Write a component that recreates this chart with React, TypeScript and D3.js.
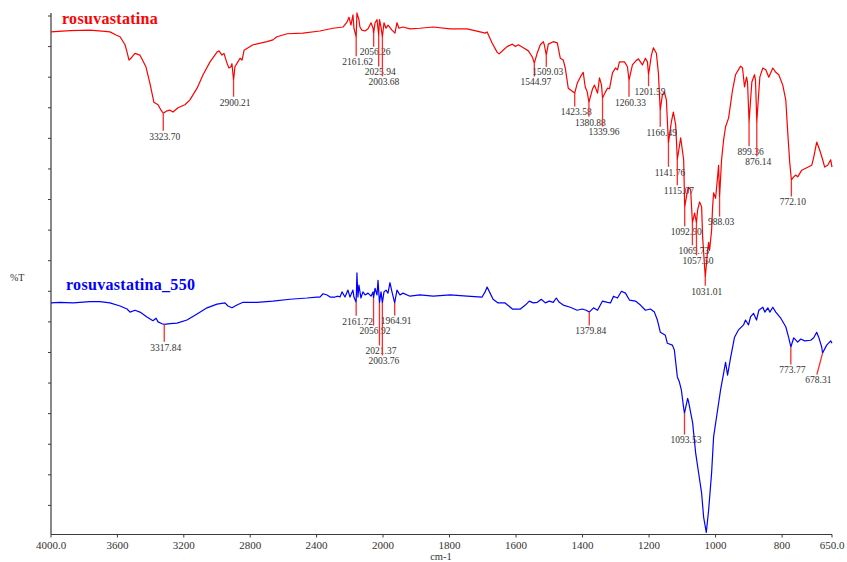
import React from "react";
import * as d3 from "d3";

// FTIR transmittance spectra, wavenumber (cm-1) vs %T
const wavenumberTicks = [4000, 3600, 3200, 2800, 2400, 2000, 1800, 1600, 1400, 1200, 1000, 800, 650];
const wavenumberTickLabels = ["4000.0", "3600", "3200", "2800", "2400", "2000", "1800", "1600", "1400", "1200", "1000", "800", "650.0"];
const transmittanceTicks = d3.range(5, 86, 5);

const seriesNames = ["rosuvastatina", "rosuvastatina_550"];

const rosuvastatina: [number, number][] = [
  [4000, 82.4], [3886, 82.6], [3765, 82.7], [3675, 82.5], [3645, 82.4], [3608, 81.9], [3584, 81.6],
  [3554, 80.3], [3542, 79.1], [3530, 77.8], [3518, 78.1], [3494, 78.9], [3464, 78.6], [3428, 76.7],
  [3404, 74.0], [3380, 70.9], [3355, 70.5], [3337, 69.6], [3323.7, 69.1], [3301, 69.5], [3283, 69.6],
  [3265, 69.3], [3235, 70.0], [3193, 70.5], [3163, 71.3], [3120, 73.2], [3084, 75.4], [3042, 77.5],
  [3000, 79.1], [2988, 79.3], [2970, 78.6], [2958, 78.9], [2940, 77.3], [2928, 76.5], [2916, 76.7],
  [2910, 77.2], [2900.21, 74.5], [2892, 76.7], [2874, 77.5], [2861, 78.1], [2849, 77.8], [2837, 79.4],
  [2783, 80.3], [2699, 80.8], [2663, 81.1], [2639, 81.6], [2578, 82.1], [2482, 82.2], [2380, 82.55],
  [2301, 83.0], [2241, 83.2], [2217, 84.0], [2205, 84.8], [2193, 83.5], [2181, 85.2], [2175, 83.0],
  [2161.62, 81.6], [2157, 85.5], [2145, 84.4], [2139, 83.2], [2127, 82.7], [2108, 82.55], [2090, 82.9],
  [2072, 83.9], [2060, 83.0], [2056.26, 82.2], [2048, 83.9], [2036, 84.4], [2025.94, 81.9], [2021, 84.4],
  [2012, 83.2], [2003.68, 81.6], [1997, 83.9], [1991, 83.0], [1985, 83.5], [1973, 82.7], [1964, 82.2],
  [1958, 83.9], [1952, 83.0], [1940, 83.2], [1919, 82.9], [1889, 83.0], [1849, 83.2], [1798, 82.9],
  [1747, 82.9], [1708, 82.4], [1693, 82.2], [1687, 82.4], [1672, 80.6], [1657, 79.1], [1651, 78.8],
  [1639, 79.4], [1627, 80.0], [1611, 80.4], [1602, 80.0], [1593, 80.3], [1578, 79.8], [1563, 79.3],
  [1551, 78.3], [1544.97, 77.3], [1536, 79.0], [1527, 80.3], [1518, 80.8], [1515, 80.3], [1509.03, 78.6],
  [1503, 80.4], [1488, 80.8], [1476, 80.6], [1467, 78.1], [1458, 77.8], [1452, 76.5], [1443, 73.2],
  [1431, 72.7], [1423.58, 72.4], [1416, 74.0], [1407, 75.0], [1398, 75.8], [1392, 73.4], [1386, 72.6],
  [1380.88, 70.9], [1370, 73.1], [1364, 73.7], [1355, 72.4], [1349, 74.9], [1343, 73.7], [1339.96, 71.6],
  [1331, 72.6], [1325, 73.2], [1319, 73.1], [1310, 75.7], [1301, 76.5], [1295, 76.2], [1289, 77.5],
  [1274, 77.5], [1265, 76.7], [1260.33, 74.5], [1250, 77.0], [1241, 77.6], [1232, 78.0], [1220, 77.0],
  [1211, 78.1], [1205, 77.5], [1201.59, 75.4], [1193, 78.6], [1187, 79.8], [1178, 78.9], [1172, 75.7],
  [1166.49, 69.6], [1160, 72.1], [1154, 72.6], [1148, 71.3], [1141.76, 64.2], [1133, 67.7], [1127, 69.3],
  [1120, 67.2], [1115.07, 61.5], [1105, 65.1], [1096, 61.5], [1092.9, 53.8], [1084, 56.6], [1081, 57.0],
  [1075, 56.6], [1069.73, 51.2], [1063, 52.8], [1057.5, 51.2], [1054, 53.3], [1048, 54.6], [1042, 53.8],
  [1039, 48.9], [1031.01, 42.3], [1024, 46.7], [1021, 48.0], [1018, 46.7], [1012, 50.0], [1009, 53.8],
  [1006, 56.1], [1000, 55.2], [994, 58.7], [991, 60.6], [988.03, 55.4], [982, 61.5], [976, 64.7],
  [970, 66.9], [961, 68.3], [949, 72.9], [940, 75.4], [925, 76.8], [919, 76.5], [913, 73.4], [907, 75.0],
  [904, 74.2], [899.36, 67.7], [891, 74.2], [883, 75.4], [880, 74.5], [876.14, 67.7], [867, 75.0],
  [858, 76.5], [849, 76.2], [840, 75.0], [828, 76.5], [819, 75.8], [810, 75.4], [798, 73.7], [789, 71.3],
  [783, 65.9], [777, 61.0], [772.1, 58.2], [765, 58.7], [759, 59.0], [753, 58.7], [741, 59.8], [726, 60.2],
  [711, 60.6], [705, 61.9], [696, 64.4], [687, 63.1], [678, 61.5], [672, 60.3], [663, 60.6], [654, 61.5],
  [650, 60.3],
];

const rosuvastatinaPeaks = [
  3323.70, 2900.21, 2161.62, 2056.26, 2025.94, 2003.68, 1544.97, 1509.03, 1423.58, 1380.88, 1339.96,
  1260.33, 1201.59, 1166.49, 1141.76, 1115.07, 1092.90, 1069.73, 1057.50, 1031.01, 988.03, 899.36,
  876.14, 772.10,
];

const rosuvastatina550: [number, number][] = [
  [4000, 38.1], [3946, 38.2], [3867, 38.1], [3765, 38.3], [3705, 38.3], [3645, 38.1], [3584, 37.6],
  [3542, 37.1], [3524, 36.6], [3494, 36.9], [3464, 36.6], [3422, 35.8], [3386, 35.2], [3367, 35.6],
  [3355, 35.0], [3331, 34.7], [3317.84, 34.6], [3283, 34.7], [3241, 34.8], [3181, 35.3], [3120, 36.3],
  [3060, 37.3], [3000, 37.9], [2952, 38.1], [2934, 37.6], [2910, 37.3], [2904, 37.4], [2880, 37.75],
  [2843, 38.2], [2759, 38.2], [2663, 38.4], [2560, 38.7], [2458, 38.9], [2398, 39.06], [2380, 39.06],
  [2361, 39.6], [2337, 39.4], [2319, 39.06], [2289, 39.06], [2271, 39.2], [2259, 39.06], [2247, 39.9],
  [2229, 39.06], [2211, 40.2], [2199, 39.06], [2181, 40.2], [2175, 39.06], [2161.72, 38.2], [2157, 43.0],
  [2151, 39.06], [2145, 41.0], [2133, 38.9], [2121, 39.9], [2108, 39.4], [2090, 39.7], [2072, 39.2],
  [2060, 39.9], [2056.92, 38.9], [2048, 40.5], [2036, 39.4], [2030, 41.8], [2021.37, 38.1], [2012, 39.9],
  [2003.76, 38.1], [1997, 39.9], [1991, 40.2], [1985, 39.7], [1979, 41.4], [1973, 39.9], [1964.91, 38.1],
  [1958, 40.2], [1949, 39.4], [1940, 39.7], [1919, 39.2], [1889, 39.4], [1849, 39.2], [1798, 39.4],
  [1747, 39.2], [1702, 39.06], [1693, 39.9], [1687, 40.7], [1678, 39.7], [1669, 38.7], [1654, 38.1],
  [1633, 38.1], [1611, 37.1], [1587, 37.1], [1572, 37.75], [1560, 38.4], [1548, 38.1], [1536, 38.2],
  [1524, 38.7], [1512, 38.1], [1500, 38.4], [1488, 38.2], [1479, 38.9], [1470, 38.2], [1458, 37.75],
  [1437, 37.4], [1416, 36.9], [1401, 37.1], [1389, 36.9], [1379.84, 36.6], [1367, 37.3], [1355, 36.9],
  [1340, 38.4], [1325, 38.2], [1316, 38.1], [1307, 39.2], [1295, 38.9], [1283, 40.0], [1271, 39.7],
  [1259, 38.57], [1241, 38.4], [1226, 37.75], [1211, 36.9], [1196, 37.1], [1184, 36.6], [1175, 35.3],
  [1166, 33.3], [1151, 32.8], [1145, 31.5], [1130, 31.2], [1124, 30.4], [1115, 26.0], [1109, 25.2],
  [1103, 23.9], [1096, 20.9], [1093.53, 20.1], [1084, 22.5], [1081, 21.9], [1069, 18.5], [1060, 13.6],
  [1051, 10.3], [1042, 7.0], [1036, 3.1], [1028, 0.6], [1021, 4.2], [1012, 10.3], [1006, 16.2],
  [994, 20.6], [985, 23.9], [976, 26.6], [970, 28.4], [964, 26.3], [955, 29.1], [943, 32.5], [931, 33.7],
  [916, 34.5], [910, 35.3], [901, 34.5], [895, 35.8], [886, 36.4], [877, 35.3], [870, 36.9], [858, 37.4],
  [852, 36.6], [843, 37.3], [837, 36.6], [828, 37.4], [819, 36.6], [804, 35.6], [789, 34.2], [780, 32.4],
  [773.77, 30.9], [765, 32.4], [753, 31.7], [744, 32.2], [732, 31.9], [714, 32.0], [705, 32.4],
  [696, 33.3], [690, 32.5], [681, 30.9], [678.31, 29.9], [666, 31.2], [654, 31.9], [650, 31.5],
];

const rosuvastatina550Peaks = [3317.84, 2161.72, 2056.92, 2021.37, 2003.76, 1964.91, 1379.84, 1093.53, 773.77, 678.31];

// Vertical placement of each peak label below its band (px), staggered so labels don't collide
const rosuvastatinaLabelDrop = [23, 22, 25, 19, 37, 45, 19, 17, 19, 20, 34, 22, 17, 22, 29, 31, 25, 28, 38, 14, 25, 30, 40, 22];
const rosuvastatina550LabelDrop = [23, 19, 33, 48, 58, 18, 19, 27, 23, 27];

const W = 847;
const H = 562;
const FONT = "'Liberation Serif', 'Times New Roman', serif";
const AXIS_COLOR = "#3a3a3a";
const TEXT_COLOR = "#333";
const MARKER_COLOR = "#ff2a2a";

const x = d3.scaleLinear().domain([4000, 2000, 650]).range([51, 383, 832]);
const y = d3.scaleLinear().domain([0, 85]).range([536, 16]);
const plotBottom = 534.5;
const plotTop = 13;

function valueAt(series: [number, number][], wn: number): number {
  for (let i = 0; i < series.length - 1; i++) {
    const [w0, t0] = series[i];
    const [w1, t1] = series[i + 1];
    if (wn <= w0 && wn >= w1) {
      const f = w0 === w1 ? 0 : (w0 - wn) / (w0 - w1);
      return t0 + (t1 - t0) * f;
    }
  }
  return series[series.length - 1][1];
}

const line = d3
  .line<[number, number]>()
  .x((d) => x(d[0]))
  .y((d) => y(d[1]));

function PeakLabels({ series, peaks, drops }: { series: [number, number][]; peaks: number[]; drops: number[] }) {
  return (
    <g>
      {peaks.map((wn, i) => {
        const px = x(wn);
        const py = y(valueAt(series, wn));
        const label = wn.toFixed(2);
        const half = (label.length * 4.55) / 2;
        let tx = px + 1.5;
        const maxCenter = x(650) - half;
        if (tx > maxCenter) tx = maxCenter;
        const cy = py + drops[i];
        return (
          <g key={wn}>
            <line x1={px} y1={py} x2={tx - 1.5} y2={cy - 5.5} stroke={MARKER_COLOR} strokeWidth={1.3} />
            <text
              x={tx}
              y={cy + 3.3}
              textAnchor="middle"
              fontFamily={FONT}
              fontSize={9.5}
              fill={TEXT_COLOR}
            >
              {label}
            </text>
          </g>
        );
      })}
    </g>
  );
}

export default function App() {
  return (
    <svg
      width={W}
      height={H}
      viewBox={`0 0 ${W} ${H}`}
      style={{ position: "absolute", left: 0, top: 0, background: "#fff" }}
    >
      <rect x={0} y={0} width={W} height={H} fill="#fff" />

      {/* y axis */}
      <line x1={x(4000)} y1={plotTop} x2={x(4000)} y2={plotBottom} stroke={AXIS_COLOR} strokeWidth={1.2} />
      {transmittanceTicks.map((t) => (
        <line key={t} x1={x(4000) - 3} x2={x(4000)} y1={y(t)} y2={y(t)} stroke={AXIS_COLOR} strokeWidth={1} />
      ))}
      <text x={10} y={281} fontFamily={FONT} fontSize={10} fill={TEXT_COLOR}>
        %T
      </text>

      {/* x axis */}
      <line x1={x(4000)} y1={plotBottom} x2={x(650)} y2={plotBottom} stroke={AXIS_COLOR} strokeWidth={1.2} />
      {wavenumberTicks.map((w, i) => (
        <g key={w}>
          <line x1={x(w)} x2={x(w)} y1={plotBottom} y2={plotBottom + 3} stroke={AXIS_COLOR} strokeWidth={1} />
          <text x={x(w)} y={549} textAnchor="middle" fontFamily={FONT} fontSize={11} fill={TEXT_COLOR}>
            {wavenumberTickLabels[i]}
          </text>
        </g>
      ))}
      <text x={441} y={559.5} textAnchor="middle" fontFamily={FONT} fontSize={10.5} fill={TEXT_COLOR}>
        cm-1
      </text>

      {/* spectra */}
      <path d={line(rosuvastatina) ?? ""} fill="none" stroke="#ff0000" strokeWidth={1.2} strokeLinejoin="round" />
      <path d={line(rosuvastatina550) ?? ""} fill="none" stroke="#0000ff" strokeWidth={1.2} strokeLinejoin="round" />

      <PeakLabels series={rosuvastatina} peaks={rosuvastatinaPeaks} drops={rosuvastatinaLabelDrop} />
      <PeakLabels series={rosuvastatina550} peaks={rosuvastatina550Peaks} drops={rosuvastatina550LabelDrop} />

      <text x={62} y={24} fontFamily={FONT} fontSize={16} fontWeight="bold" fill="#ff0000" letterSpacing={0.3}>
        {seriesNames[0]}
      </text>
      <text x={66} y={290} fontFamily={FONT} fontSize={16} fontWeight="bold" fill="#0000ff" letterSpacing={0.3}>
        {seriesNames[1]}
      </text>
    </svg>
  );
}
